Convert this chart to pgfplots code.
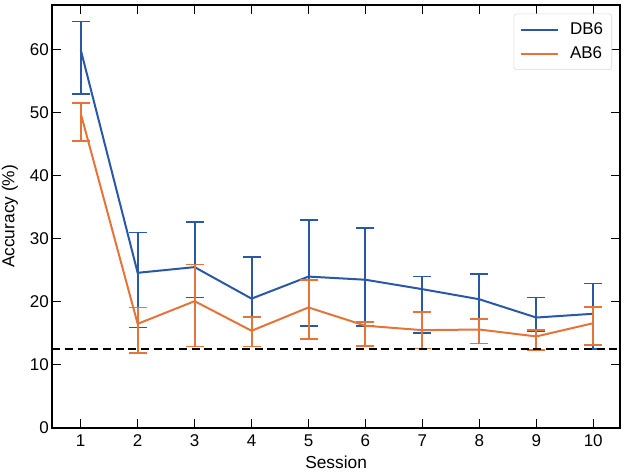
\documentclass[border=0pt]{standalone}
\usepackage{fontspec}
\setmainfont{Liberation Sans}
\usepackage{pgfplots}
\usepackage{pgfplotstable}
\pgfplotsset{compat=1.18}
\definecolor{dbblue}{RGB}{42,88,168}
\definecolor{aborange}{RGB}{229,116,56}

\pgfplotstableread{
x y ep em
1 60.0 4.5 7.0
2 24.6 6.4 8.7
3 25.5 7.2 4.8
4 20.5 6.6 7.6
5 24.0 9.0 7.8
6 23.5 8.2 7.4
7 22.0 2.0 6.9
8 20.4 4.0 3.1
9 17.5 3.2 2.2
10 18.1 4.8 5.6
}\dbsix
\pgfplotstableread{
x y ep em
1 49.9 1.7 4.4
2 16.5 2.6 4.6
3 20.1 5.8 7.2
4 15.4 2.2 2.5
5 19.1 4.3 5.0
6 16.2 0.6 3.2
7 15.5 2.9 2.9
8 15.6 1.7 2.2
9 14.5 1.0 2.2
10 16.6 2.6 3.4
}\absix

\begin{document}
\begin{tikzpicture}
\begin{axis}[
  at={(0,0)}, anchor=south west,
  width=426pt, height=317.25pt, scale only axis,
  xmin=0.5, xmax=10.47, ymin=0, ymax=67.1,
  xtick={1,...,10}, ytick={0,10,...,60},
  tick align=inside, tick pos=both,
  major tick length=6.75pt,
  every tick/.style={black, line width=1pt},
  axis line style={black, line width=1.4pt},
  /pgf/number format/assume math mode=true,
  tick label style={font=\fontsize{12.75}{14}\selectfont},
  yticklabel style={xshift=1pt},
  xticklabel style={yshift=-1.5pt},
  xlabel={Session},
  ylabel={Accuracy (\%)},
  every axis x label/.style={at={(axis description cs:0.5,-0.0815)}, anchor=center, font=\fontsize{13}{15}\selectfont},
  every axis y label/.style={at={(axis description cs:-0.0745,0.5)}, rotate=90, anchor=center, font=\fontsize{13}{15}\selectfont},
  legend style={at={(1,1)}, xshift=-6pt, yshift=-6.5pt, anchor=north east,
    draw=black!15, rounded corners=2pt, fill=white,
    font=\fontsize{12.75}{14}\selectfont, row sep=4pt, inner xsep=4.5pt, inner ysep=4.5pt},
  legend cell align=left,
  legend image code/.code={\draw[#1] (0cm,0cm) -- (0.97cm,0cm); \path (1.2cm,0cm);},
]
\addplot[dbblue, line width=1.5pt, no markers,
  error bars/.cd, y dir=both, y explicit,
  error bar style={line width=1.5pt, dbblue, solid},
  error mark options={rotate=90, mark size=6.75pt, line width=1.3pt, dbblue}]
  table[x=x, y=y, y error plus=ep, y error minus=em] {\dbsix};
\addlegendentry{DB6}
\addplot[aborange, line width=1.5pt, no markers,
  error bars/.cd, y dir=both, y explicit,
  error bar style={line width=1.5pt, aborange, solid},
  error mark options={rotate=90, mark size=6.75pt, line width=1.3pt, aborange}]
  table[x=x, y=y, y error plus=ep, y error minus=em] {\absix};
\addlegendentry{AB6}
\addplot[black, line width=1.4pt, dash pattern=on 6pt off 3.5pt, forget plot]
  coordinates {(0.5,12.5) (10.47,12.5)};
\end{axis}
\pgfresetboundingbox
\useasboundingbox (-39.2pt,-34.5pt) rectangle (429pt,321pt);
\end{tikzpicture}
\end{document}
